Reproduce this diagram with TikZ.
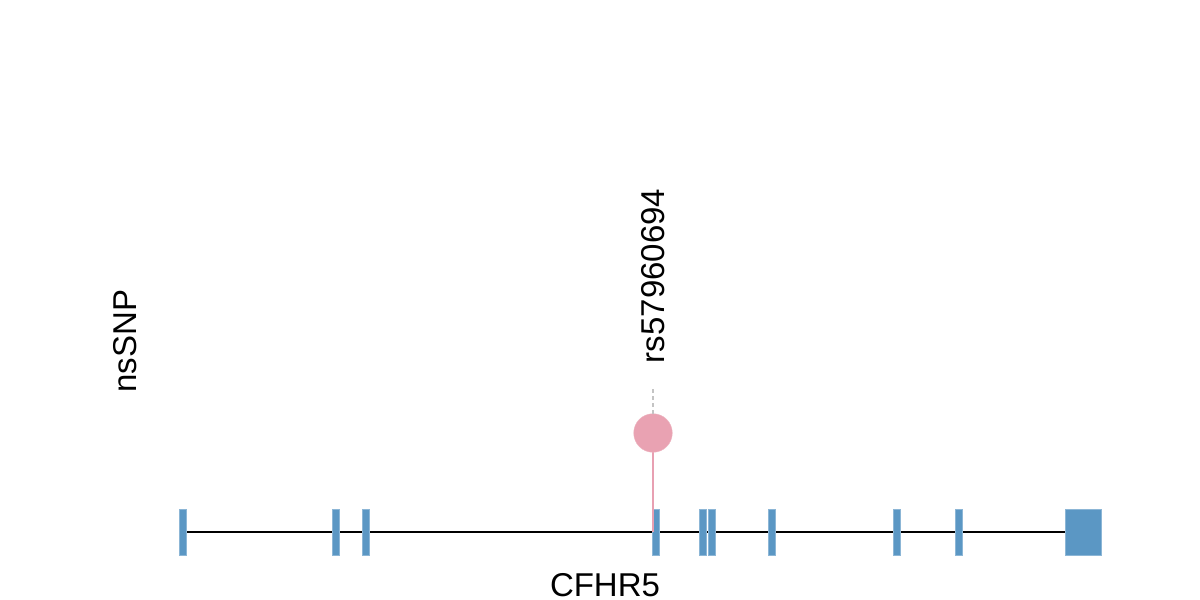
\documentclass[tikz,border=0pt]{standalone}
\usepackage{fontspec}
\setmainfont{Liberation Sans}
\usetikzlibrary{positioning}
\definecolor{exonblue}{HTML}{5B97C4}
\definecolor{snppink}{HTML}{E9A2B2}
\definecolor{stempink}{HTML}{E8A0B2}
\definecolor{guidegray}{HTML}{C4C4C4}

\begin{document}
\begin{tikzpicture}[
  x=1pt, y=-1pt,
  font=\fontsize{33}{38}\selectfont,
  exon/.style={rectangle, fill=exonblue, draw=exonblue!70!white, line width=0.5pt,
               inner sep=0pt, minimum height=46pt, minimum width=#1},
  exon/.default=7pt,
  intron/.style={draw=black, line width=2pt},
  stem/.style={draw=stempink, line width=2pt},
  lolli/.style={circle, fill=snppink, draw=snppink!80!white, line width=0.4pt,
                inner sep=0pt, minimum size=38.6pt},
  guide/.style={draw=guidegray, line width=2pt, dash pattern=on 4pt off 3pt},
  vlabel/.style={inner sep=0pt, rotate=90}
]
  \useasboundingbox (0,0) rectangle (1200,600);

  % gene body
  \coordinate (start) at (182.5,531.5);
  \coordinate (stop) at (1065,531.5);
  \draw[intron] (start) -- (stop);

  % exons
  \foreach \i/\xc in {1/182.5, 2/335.5, 3/365.5, 4/655.5, 5/702.5,
                      6/711.5, 7/771.5, 8/896.5, 9/958.5}
    \node[exon] (e\i) at (\xc,532) {};
  \node[exon=36pt] (e10) at (1083,532) {};

  % nsSNP lollipop
  \coordinate (snpc) at (653,433);
  \coordinate (snpbase) at (653,531.5);
  \coordinate (guidetop) at (653,388);
  \draw[stem] (snpc) -- (snpbase);
  \node[lolli] (snp) at (snpc) {};
  \draw[guide] (snp.north) -- (guidetop);

  % labels
  \node[vlabel] (rsid) at (653.5,276) {rs57960694};
  \node[vlabel] (track) at (125,341) {nsSNP};
  \node[inner sep=0pt] (gene) at (605,585) {CFHR5};
\end{tikzpicture}
\end{document}
